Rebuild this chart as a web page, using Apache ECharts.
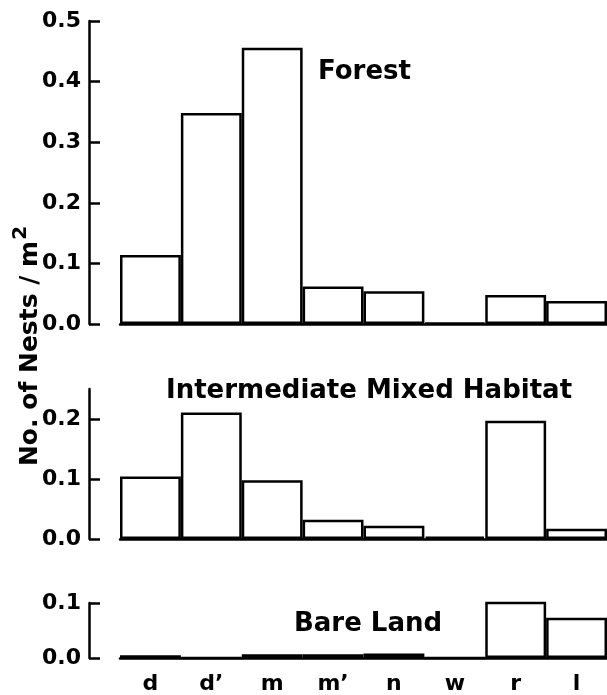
<!DOCTYPE html>
<html>
<head>
<meta charset="utf-8">
<script src="https://cdn.jsdelivr.net/npm/echarts@6/dist/echarts.min.js"></script>
<style>html,body{margin:0;padding:0;background:#fff}#c{width:607px;height:695px}</style>
</head>
<body>
<div id="c"></div>
<script>
const categories = ['d', 'd\u2019', 'm', 'm\u2019', 'n', 'w', 'r', 'l'];
const forest = [0.114, 0.348, 0.456, 0.062, 0.054, 0.002, 0.048, 0.038];
const intermediate = [0.104, 0.211, 0.098, 0.032, 0.022, 0.004, 0.197, 0.017];
const bareLand = [0.005, 0.0, 0.007, 0.007, 0.008, 0.0, 0.104, 0.073];
const panelTitles = ['Forest', 'Intermediate Mixed Habitat', 'Bare Land'];
const forestTicks = [0, 0.1, 0.2, 0.3, 0.4, 0.5];
const intermediateTicks = [0, 0.1, 0.2];
const bareTicks = [0, 0.1];
const yAxisName = 'No. of Nests / m';
const yAxisSup = '2';

const FONT = 'DejaVu Sans';
const chart = echarts.init(document.getElementById('c'), null, {renderer: 'canvas'});

const grids = [
  {left: 120, right: 0, top: 21, height: 303},
  {left: 120, right: 0, top: 389, height: 150},
  {left: 120, right: 0, top: 603, height: 60}
];
const maxes = [0.5, 0.25, 0.1];
const ticks = [forestTicks, intermediateTicks, bareTicks];
const datas = [forest, intermediate, bareLand];

const xAxes = grids.map((g, i) => ({
  type: 'category', gridIndex: i, data: categories,
  axisLine: {show: true, lineStyle: {color: '#000', width: 2.5}},
  axisTick: {show: false},
  axisLabel: {show: i === 2, color: '#000', fontFamily: FONT, fontWeight: 'bold', fontSize: 22, margin: 15}
}));
const yAxes = grids.map((g, i) => ({
  type: 'value', gridIndex: i, min: 0, max: maxes[i], offset: 31,
  splitLine: {show: false},
  axisLine: {show: true, lineStyle: {color: '#000', width: 2.5}},
  axisTick: {show: true, inside: true, length: 11, lineStyle: {color: '#000', width: 2.5}, customValues: ticks[i]},
  axisLabel: {color: '#000', fontFamily: FONT, fontWeight: 'bold', fontSize: 22, margin: 8,
    customValues: ticks[i], formatter: v => v.toFixed(1)}
}));
const series = datas.map((d, i) => ({
  type: 'bar', xAxisIndex: i, yAxisIndex: i, data: d,
  barCategoryGap: '0%',
  itemStyle: {color: '#fff', borderColor: '#000', borderWidth: 2.5},
  silent: true
}));

chart.setOption({
  animation: false,
  backgroundColor: '#fff',
  grid: grids,
  xAxis: xAxes,
  yAxis: yAxes,
  series: series,
  graphic: [
    {type: 'text', left: 318, top: 59, style: {text: panelTitles[0], font: 'bold 26px ' + FONT, fill: '#000'}},
    {type: 'text', left: 166, top: 378, style: {text: panelTitles[1], font: 'bold 26px ' + FONT, fill: '#000'}},
    {type: 'text', left: 294, top: 611, style: {text: panelTitles[2], font: 'bold 26px ' + FONT, fill: '#000'}},
    {type: 'text', x: 27, y: 346, rotation: Math.PI / 2,
      style: {text: '{a|' + yAxisName + '}{s|' + yAxisSup + '}', align: 'center', verticalAlign: 'middle',
        rich: {
          a: {fontFamily: FONT, fontWeight: 'bold', fontSize: 25, fill: '#000', color: '#000', padding: [6, 0, 0, 0]},
          s: {fontFamily: FONT, fontWeight: 'bold', fontSize: 20, fill: '#000', color: '#000', padding: [0, 0, 12, 1]}
        }}}
  ]
});
</script>
</body>
</html>
